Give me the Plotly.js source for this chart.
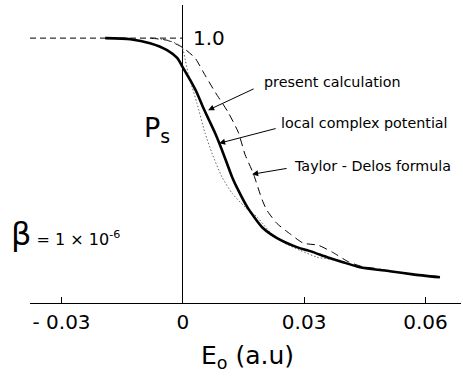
<!DOCTYPE html>
<html>
<head>
<meta charset="utf-8">
<script src="https://cdn.plot.ly/plotly-3.0.1.min.js"></script>
<style>html,body{margin:0;padding:0;background:#fff}#chart{width:463px;height:377px}</style>
</head>
<body>
<div id="chart"></div>
<script>
// ---- data ----
const presentX = [-0.0192, -0.0130, -0.0081, -0.0039, -0.0014, 0.0001, 0.0018, 0.0035, 0.0050, 0.0065, 0.0080, 0.0097, 0.0122, 0.0137, 0.0161, 0.0198, 0.0233, 0.0282, 0.0322, 0.0357, 0.0396, 0.0438, 0.0512, 0.0569, 0.0636];
const presentP = [1.000, 0.996, 0.981, 0.955, 0.925, 0.887, 0.842, 0.793, 0.739, 0.690, 0.641, 0.577, 0.475, 0.426, 0.358, 0.283, 0.245, 0.211, 0.192, 0.173, 0.154, 0.135, 0.120, 0.108, 0.097];

const localX = [-0.0081, -0.0031, -0.0002, 0.0006, 0.0013, 0.0023, 0.0035, 0.0055, 0.0072, 0.0097, 0.0122, 0.0154, 0.0184, 0.0216, 0.0248, 0.0290, 0.0332, 0.0364, 0.0396, 0.0438, 0.0512, 0.0569, 0.0636];
const localP = [1.000, 0.989, 0.966, 0.917, 0.868, 0.815, 0.754, 0.641, 0.566, 0.475, 0.414, 0.362, 0.324, 0.267, 0.229, 0.199, 0.173, 0.165, 0.154, 0.135, 0.120, 0.108, 0.097];

const taylorX = [-0.0081, -0.0039, -0.0002, 0.0030, 0.0055, 0.0080, 0.0112, 0.0137, 0.0154, 0.0174, 0.0196, 0.0208, 0.0233, 0.0266, 0.0298, 0.0335, 0.0372, 0.0409, 0.0445, 0.0480, 0.0512, 0.0569, 0.0636];
const taylorP = [1.000, 0.992, 0.966, 0.925, 0.860, 0.796, 0.720, 0.645, 0.560, 0.490, 0.390, 0.350, 0.300, 0.260, 0.226, 0.218, 0.190, 0.156, 0.137, 0.130, 0.120, 0.108, 0.097];

const refX = [-0.0378, 0];
const refP = [1.0, 1.0];

const tickVals = [-0.03, 0, 0.03, 0.06];
const tickText = ['- 0.03', '0', '0.03', '0.06'];
const yTickText = '1.0';

const labelPresent = 'present calculation';
const labelLocal = 'local complex potential';
const labelTaylor = 'Taylor - Delos formula';
const xTitle = 'E<sub>o</sub> (a.u)';
const yTitle = 'P<sub>s</sub>';
const betaText = '<span style="font-size:32px">β</span> = 1 × 10<sup>-6</sup>';

const FONT = '"DejaVu Sans", sans-serif';

const traces = [
  {x: refX, y: refP, mode: 'lines', line: {color: '#000', width: 1, dash: '6px,4px'}, hoverinfo: 'skip'},
  {x: taylorX, y: taylorP, mode: 'lines', line: {color: '#000', width: 1, dash: '8px,5px', shape: 'spline', smoothing: 0.6}, name: labelTaylor},
  {x: localX, y: localP, mode: 'lines', line: {color: '#666', width: 1, dash: '1.5px,2px', shape: 'spline', smoothing: 0.6}, name: labelLocal},
  {x: presentX, y: presentP, mode: 'lines', line: {color: '#000', width: 2.6, shape: 'spline', smoothing: 0.6}, name: labelPresent}
];

function arrow(tx, ty, hx, hy) {
  return {x: hx, y: hy, ax: tx, ay: ty, xref: 'x', yref: 'y', axref: 'x', ayref: 'y',
          text: '', showarrow: true, arrowhead: 2, arrowsize: 1.2, arrowwidth: 1, arrowcolor: '#000'};
}

const annotations = [
  {x: 0.0196, y: 0.834, xref: 'x', yref: 'y', text: labelPresent, showarrow: false, xanchor: 'left', yanchor: 'middle', font: {size: 14.3}},
  {x: 0.0238, y: 0.679, xref: 'x', yref: 'y', text: labelLocal, showarrow: false, xanchor: 'left', yanchor: 'middle', font: {size: 14.3}},
  {x: 0.0270, y: 0.516, xref: 'x', yref: 'y', text: labelTaylor, showarrow: false, xanchor: 'left', yanchor: 'middle', font: {size: 14.3}},
  arrow(0.01788, 0.811, 0.00626, 0.728),
  arrow(0.02332, 0.660, 0.00898, 0.603),
  arrow(0.02604, 0.509, 0.01714, 0.486),
  {x: 0.0020, y: 1.0, xref: 'x', yref: 'y', text: yTickText, showarrow: false, xanchor: 'left', yanchor: 'middle', font: {size: 20}},
  {x: -0.0065, y: 0.655, xref: 'x', yref: 'y', text: yTitle, showarrow: false, xanchor: 'center', yanchor: 'middle', font: {size: 27}},
  {x: -0.048, y: 0.262, xref: 'paper', yref: 'y', text: betaText, showarrow: false, xanchor: 'left', yanchor: 'middle', font: {size: 16}},
  {x: 0.0159, y: -0.18, xref: 'x', yref: 'paper', text: xTitle, showarrow: false, xanchor: 'center', yanchor: 'middle', font: {size: 25}}
];

const layout = {
  width: 463, height: 377,
  margin: {l: 30, r: 2, t: 5, b: 74.3},
  paper_bgcolor: '#fff', plot_bgcolor: '#fff',
  showlegend: false,
  font: {family: FONT, color: '#000'},
  xaxis: {
    range: [-0.0378, 0.0688], showgrid: false,
    zeroline: true, zerolinecolor: '#000', zerolinewidth: 1,
    showline: true, linecolor: '#000', linewidth: 1,
    ticks: 'inside', ticklen: 6, tickcolor: '#000', tickwidth: 1,
    tickmode: 'array', tickvals: tickVals, ticktext: tickText,
    tickfont: {size: 20, family: FONT}, ticklabelstandoff: 1
  },
  yaxis: {
    range: [0, 1.125], showgrid: false, zeroline: false, showline: false,
    showticklabels: false, ticks: ''
  },
  annotations: annotations
};

Plotly.newPlot('chart', traces, layout, {displayModeBar: false, staticPlot: true});
</script>
</body>
</html>
